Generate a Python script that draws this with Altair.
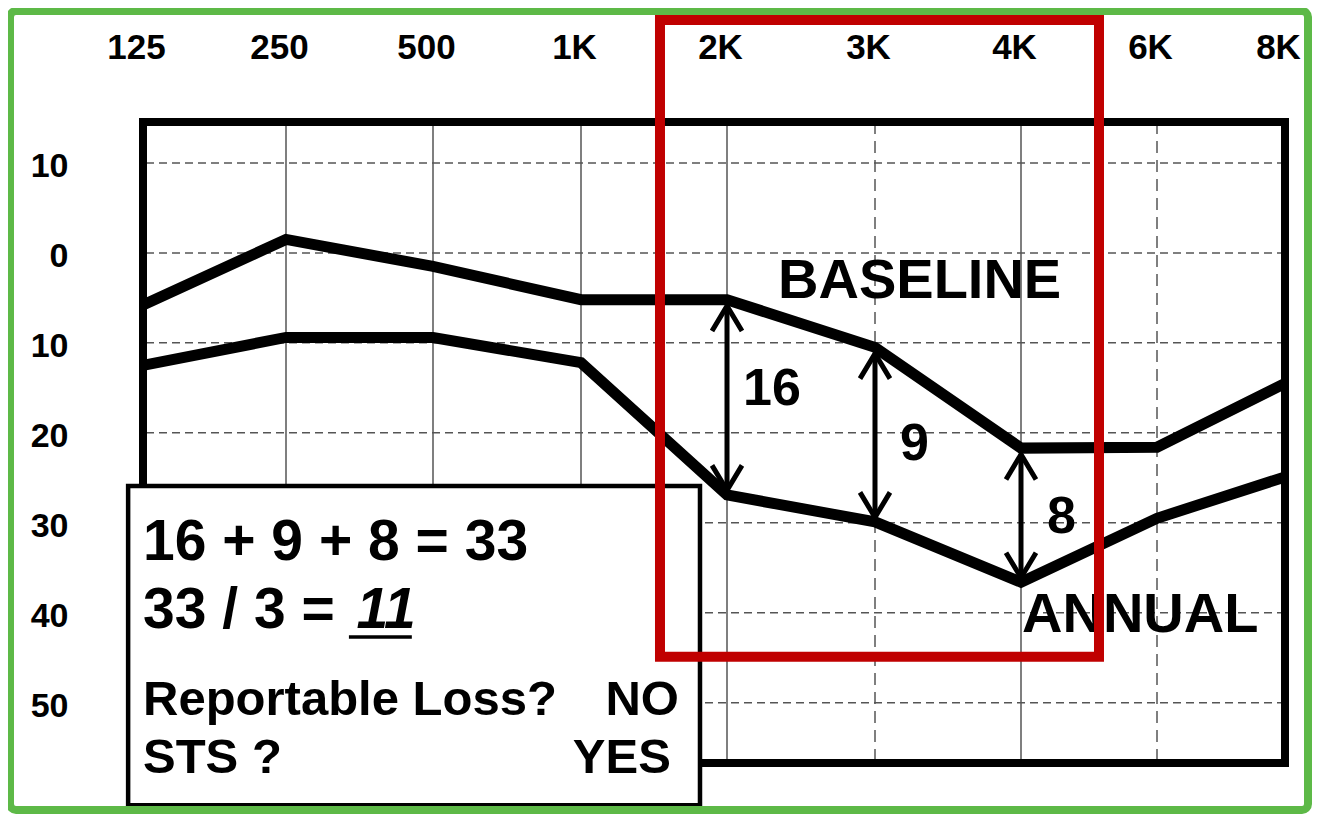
import altair as alt
import pandas as pd

# ---------------- data ----------------
freq_hz = [125, 250, 500, 1000, 2000, 3000, 4000, 6000, 8000]
freq_text = ["125", "250", "500", "1K", "2K", "3K", "4K", "6K", "8K"]
freq_dashed = [False, False, False, False, False, True, False, True, False]
baseline_db = [5.8, -1.5, 1.5, 5.2, 5.2, 10.5, 21.7, 21.6, 14.5]
annual_db = [12.5, 9.4, 9.4, 12.2, 26.9, 29.9, 36.6, 29.5, 24.9]
db_ticks = [-10, 0, 10, 20, 30, 40, 50]
shift_hz = [2000, 3000, 4000]
shift_text = ["16", "9", "8"]
series_names = ["BASELINE", "ANNUAL"]
box_lines = ["16 + 9 + 8 = 33", "33 / 3 = ", "Reportable Loss?", "STS ?"]
box_answers = ["NO", "YES"]
average_text = "11"

# ---------------- layout / style ----------------
W, H = 1142, 641
FONT = "Liberation Sans"
DB_MIN, DB_MAX = -14.55, 56.7

x_scale = alt.Scale(domain=freq_hz, range=[0, 143, 290, 438, 584, 732, 878, 1014, 1142],
                    nice=False, zero=False)
y_scale = alt.Scale(domain=[DB_MIN, DB_MAX], reverse=True, nice=False, zero=False)

label_expr = " : ".join(f"datum.value == {h} ? '{t}'" for h, t in zip(freq_hz, freq_text)) + " : ''"
x_axis = alt.Axis(orient="top", values=freq_hz, labelExpr=label_expr, title=None,
                  ticks=False, tickSize=0, domain=False, grid=False,
                  labelFont=FONT, labelFontSize=35, labelFontWeight="bold", labelColor="black",
                  labelPadding=64, labelBaseline="alphabetic", labelOffset=-7,
                  labelFlush=False, labelOverlap=False)
y_axis = alt.Axis(values=db_ticks, labelExpr="'' + abs(datum.value)", title=None,
                  ticks=False, tickSize=0, domain=False, grid=False,
                  labelFont=FONT, labelFontSize=34, labelFontWeight="bold", labelColor="black",
                  labelPadding=75, labelOffset=4, labelFlush=False, labelOverlap=False)


def X(f="hz"):
    return alt.X(f"{f}:Q", scale=x_scale, axis=x_axis)


def Y(f="db"):
    return alt.Y(f"{f}:Q", scale=y_scale, axis=y_axis)


freq_df = pd.DataFrame({"hz": freq_hz, "dashed": freq_dashed})
grid_df = pd.DataFrame({"db": db_ticks})
curve_df = pd.DataFrame({
    "series": [series_names[0]] * len(freq_hz) + [series_names[1]] * len(freq_hz),
    "hz": freq_hz * 2,
    "db": baseline_db + annual_db,
})

base_at = dict(zip(freq_hz, baseline_db))
ann_at = dict(zip(freq_hz, annual_db))
arrow_df = pd.DataFrame({
    "hz": shift_hz,
    "db": [base_at[h] + 0.7 for h in shift_hz],
    "db2": [ann_at[h] - 0.5 for h in shift_hz],
})

# ---------------- layers ----------------
hgrid = alt.Chart(grid_df).mark_rule(color="#555555", strokeWidth=1.5, strokeDash=[8, 5]).encode(y=Y())
vgrid_solid = alt.Chart(freq_df).transform_filter("!datum.dashed").mark_rule(
    color="#555555", strokeWidth=1.5).encode(x=X())
vgrid_dash = alt.Chart(freq_df).transform_filter("datum.dashed").mark_rule(
    color="#555555", strokeWidth=1.5, strokeDash=[12, 7]).encode(x=X())

curves = alt.Chart(curve_df).mark_line(
    color="black", strokeWidth=11, strokeJoin="miter", strokeCap="butt"
).encode(x=X(), y=Y(), detail="series:N")

frame = alt.Chart(pd.DataFrame({"hz": [freq_hz[0]], "hz2": [freq_hz[-1]], "db": [DB_MIN], "db2": [DB_MAX]})
                  ).mark_rect(filled=False, stroke="black", strokeWidth=8).encode(
    x=X(), x2="hz2:Q", y=Y(), y2="db2:Q")

box = alt.Chart(pd.DataFrame({"hz": [112], "hz2": [1815], "db": [25.9], "db2": [61.4]})
                ).mark_rect(fill="white", stroke="black", strokeWidth=4.5).encode(
    x=X(), x2="hz2:Q", y=Y(), y2="db2:Q")

box_text_df = pd.DataFrame({
    "hz": [125, 125, 125, 125],
    "db": [34.1, 41.7, 51.4, 57.8],
    "text": box_lines,
    "fs": [57, 57, 49, 49],
})
box_text = alt.Chart(box_text_df).mark_text(
    font=FONT, fontWeight="bold", align="left", baseline="alphabetic", color="black"
).encode(x=X(), y=Y(), text="text:N", size=alt.Size("fs:Q", scale=None))

answer_df = pd.DataFrame({"hz": [1671, 1616], "db": [51.4, 57.8], "text": box_answers})
answers = alt.Chart(answer_df).mark_text(
    font=FONT, fontWeight="bold", fontSize=49, align="right", baseline="alphabetic", color="black"
).encode(x=X(), y=Y(), text="text:N")

avg = alt.Chart(pd.DataFrame({"hz": [370], "db": [41.7], "text": [average_text]})).mark_text(
    font=FONT, fontWeight="bold", fontStyle="italic", fontSize=57, align="left",
    baseline="alphabetic", color="black"
).encode(x=X(), y=Y(), text="text:N")
underline = alt.Chart(pd.DataFrame({"hz": [357], "hz2": [464], "db": [42.7]})).mark_rule(
    color="black", strokeWidth=3.5).encode(x=X(), x2="hz2:Q", y=Y())

shafts = alt.Chart(arrow_df).mark_rule(color="black", strokeWidth=5).encode(x=X(), y=Y(), y2="db2:Q")
head_up = alt.Chart(arrow_df).mark_point(
    shape="M-0.6,1L0,0L0.6,1", size=2500, filled=False, color="black", strokeWidth=5,
    opacity=1, strokeJoin="miter").encode(x=X(), y=Y())
head_down = alt.Chart(arrow_df).mark_point(
    shape="M-0.6,-1L0,0L0.6,-1", size=2500, filled=False, color="black", strokeWidth=5,
    opacity=1, strokeJoin="miter").encode(x=X(), y=Y("db2"))

shift_label_df = pd.DataFrame({"hz": [2108, 3171, 4382], "db": [16.9, 23.0, 31.1], "text": shift_text})
shift_labels = alt.Chart(shift_label_df).mark_text(
    font=FONT, fontWeight="bold", fontSize=52, align="left", baseline="alphabetic", color="black"
).encode(x=X(), y=Y(), text="text:N")

series_label_df = pd.DataFrame({"hz": [2345, 4015], "db": [5.0, 42.1], "text": series_names})
series_labels = alt.Chart(series_label_df).mark_text(
    font=FONT, fontWeight="bold", fontSize=56, align="left", baseline="alphabetic", color="black"
).encode(x=X(), y=Y(), text="text:N")

highlight = alt.Chart(pd.DataFrame({"hz": [1541], "hz2": [5147], "db": [-25.9], "db2": [44.9]})
                      ).mark_rect(filled=False, stroke="#C00000", strokeWidth=10).encode(
    x=X(), x2="hz2:Q", y=Y(), y2="db2:Q")

outer = alt.Chart(pd.DataFrame({"k": [0]})).mark_rect(
    filled=False, stroke="#5DB947", strokeWidth=8, cornerRadius=6
).encode(x=alt.value(-133), x2=alt.value(1165), y=alt.value(-111), y2=alt.value(688))

chart = alt.layer(
    hgrid, vgrid_solid, vgrid_dash, curves, frame, box, box_text, answers, avg, underline,
    shafts, head_up, head_down, shift_labels, series_labels, highlight, outer
).properties(
    width=W, height=H,
    autosize=alt.AutoSizeParams(type="none"),
    padding={"left": 135, "top": 114, "right": 27, "bottom": 51},
    background="white",
).configure_view(stroke=None)

chart.save("out.html", embed_options={"renderer": "svg", "actions": False})
